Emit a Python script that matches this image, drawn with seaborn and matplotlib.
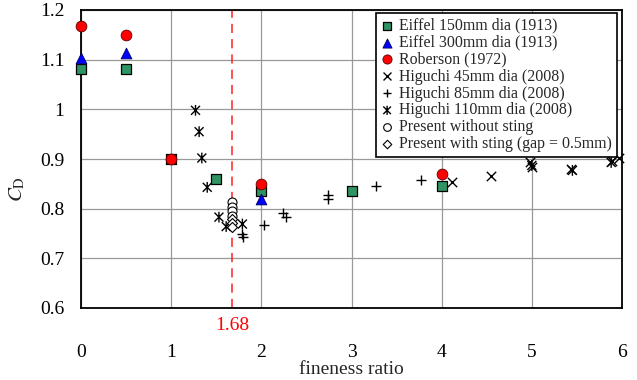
import matplotlib
matplotlib.use("Agg")
import matplotlib.pyplot as plt
import seaborn as sns
from matplotlib.path import Path

sns.set_style("white")
plt.rcParams['font.family'] = ['Liberation Serif', 'DejaVu Serif']
plt.rcParams['mathtext.fontset'] = 'stix'

# ---- data ----
eiffel150_x = [0, 0.5, 1, 1.5, 2, 3, 4]
eiffel150_y = [1.081, 1.081, 0.900, 0.860, 0.836, 0.836, 0.845]
eiffel300_x = [0, 0.5, 2]
eiffel300_y = [1.103, 1.113, 0.820]
roberson_x = [0, 0.5, 1, 2, 4]
roberson_y = [1.168, 1.150, 0.900, 0.850, 0.870]
hig45_x = [4.11, 4.55, 4.98, 5.00, 5.43, 5.89, 5.97]
hig45_y = [0.853, 0.865, 0.893, 0.883, 0.879, 0.895, 0.903]
hig85_x = [1.79, 1.80, 2.03, 2.24, 2.27, 2.74, 2.74, 3.27, 3.77]
hig85_y = [0.749, 0.742, 0.767, 0.791, 0.784, 0.827, 0.820, 0.846, 0.858]
hig110_x = [1.27, 1.31, 1.34, 1.40, 1.53, 1.61, 1.79, 5.00, 5.45, 5.88]
hig110_y = [0.998, 0.955, 0.902, 0.843, 0.783, 0.764, 0.769, 0.887, 0.877, 0.893]
nosting_x = [1.68, 1.68, 1.68, 1.68]
nosting_y = [0.813, 0.804, 0.795, 0.786]
sting_x = [1.68, 1.68, 1.68]
sting_y = [0.779, 0.771, 0.764]
crit_x = 1.68

xticks = [0, 1, 2, 3, 4, 5, 6]
yticks = [0.6, 0.7, 0.8, 0.9, 1.0, 1.1, 1.2]
ytick_labels = ["0.6", "0.7", "0.8", "0.9", "1", "1.1", "1.2"]

asterisk = Path([(-1, -1), (1, 1), (-1, 1), (1, -1), (0, -1.2), (0, 1.2)],
                [Path.MOVETO, Path.LINETO, Path.MOVETO, Path.LINETO, Path.MOVETO, Path.LINETO])

fig = plt.figure(figsize=(6.37, 3.80), dpi=100)
ax = fig.add_axes([81/637, 1 - 308/380, (622-81)/637, (308-10)/380])

ax.axvline(crit_x, color='#ff2020', lw=1.1, ls=(0, (6, 4)), zorder=1)

common = dict(ax=ax, clip_on=False)
sns.scatterplot(x=eiffel150_x, y=eiffel150_y, marker='s', s=55,
                color='#2e9464', edgecolor='black', linewidth=0.9,
                label='Eiffel 150mm dia (1913)', zorder=3, **common)
sns.scatterplot(x=eiffel300_x, y=eiffel300_y, marker='^', s=60,
                color='#0000ff', edgecolor='#000060', linewidth=0.6,
                label='Eiffel 300mm dia (1913)', zorder=3, **common)
sns.scatterplot(x=roberson_x, y=roberson_y, marker='o', s=60,
                color='#ff0000', edgecolor='#600000', linewidth=0.6,
                label='Roberson (1972)', zorder=4, **common)
sns.scatterplot(x=hig45_x, y=hig45_y, marker='x', s=45,
                color='black', linewidth=1.0,
                label='Higuchi 45mm dia (2008)', zorder=3, **common)
sns.scatterplot(x=hig85_x, y=hig85_y, marker='+', s=55,
                color='black', linewidth=1.0,
                label='Higuchi 85mm dia (2008)', zorder=3, **common)
sns.scatterplot(x=hig110_x, y=hig110_y, marker=asterisk, s=60,
                color='black', facecolor='none', edgecolor='black', linewidth=1.0,
                label='Higuchi 110mm dia (2008)', zorder=3, **common)
sns.scatterplot(x=nosting_x, y=nosting_y, marker='o', s=42,
                facecolor='white', edgecolor='black', linewidth=0.8,
                label='Present without sting', zorder=5, **common)
sns.scatterplot(x=sting_x, y=sting_y, marker='D', s=26,
                facecolor='white', edgecolor='black', linewidth=0.8,
                label='Present with sting (gap = 0.5mm)', zorder=5, **common)

ax.set_xlim(0, 6)
ax.set_ylim(0.6, 1.2)
ax.set_xticks(xticks)
ax.set_xticklabels([str(t) for t in xticks])
ax.set_yticks(yticks)
ax.set_yticklabels(ytick_labels)
ax.grid(True, color='#999999', lw=0.9)
ax.set_axisbelow(True)
for sp in ax.spines.values():
    sp.set_color('black')
    sp.set_linewidth(1.3)
ax.tick_params(axis='x', direction='in', length=5, width=1, pad=26, labelsize=14)
ax.tick_params(axis='y', direction='out', length=0, pad=12, labelsize=14)
ax.tick_params(axis='both', colors='black')

ax.text(crit_x, -0.03, '1.68', transform=ax.get_xaxis_transform(),
        color='#ff0000', fontsize=14, ha='center', va='top')

ax.set_xlabel('fineness ratio', fontsize=14, labelpad=0)
ax.set_ylabel(r'$C_{\rm D}$', fontsize=15)
ax.yaxis.set_label_coords(-0.10, 0.40)

leg = ax.legend(loc='upper right', bbox_to_anchor=(0.99, 0.99), fontsize=11.4,
                frameon=True, fancybox=False, framealpha=1, edgecolor='black',
                handlelength=0.8, handletextpad=0.35, borderpad=0.3,
                labelspacing=0.06, markerscale=0.85, borderaxespad=0)
leg.get_frame().set_linewidth(1.2)
leg.set_zorder(10)

fig.savefig('out.png', dpi=100)
